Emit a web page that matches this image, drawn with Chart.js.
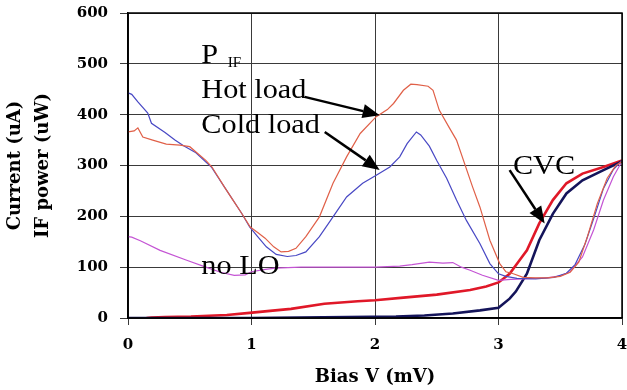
<!DOCTYPE html>
<html>
<head>
<meta charset="utf-8">
<script src="https://cdn.jsdelivr.net/npm/chart.js@4/dist/chart.umd.min.js"></script>
<style>
html,body{margin:0;padding:0;background:#fff;}
canvas{display:block;}
</style>
</head>
<body>
<canvas id="c" width="627" height="390"></canvas>
<script>
// ---- data ----
const hotBias  = [0,0.05,0.08,0.12,0.2,0.31,0.42,0.5,0.63,0.68,0.78,0.85,0.92,0.99,1.05,1.11,1.18,1.24,1.3,1.36,1.44,1.55,1.66,1.77,1.88,2.01,2.1,2.15,2.23,2.29,2.34,2.43,2.47,2.52,2.6,2.66,2.79,2.85,2.93,3.01,3.06,3.12,3.2,3.3,3.4,3.5,3.58,3.65,3.72,3.8,3.88,3.95,4.0];
const hotLoad  = [366,368,374,356,350,342,340,337,310,297,258,232,206,179,168,157,140,130,131,137,160,199,265,317,363,396,410,422,448,460,459,456,448,409,375,350,258,218,153,107,91,87,80,79,79,82,90,110,160,225,275,300,308];

const coldBias = [0,0.03,0.08,0.16,0.19,0.3,0.38,0.45,0.55,0.675,0.78,0.92,0.985,1.05,1.12,1.2,1.29,1.36,1.44,1.55,1.66,1.77,1.9,2.01,2.12,2.2,2.26,2.335,2.37,2.44,2.5,2.58,2.66,2.74,2.85,2.93,3.0,3.06,3.15,3.3,3.45,3.55,3.62,3.7,3.77,3.85,3.93,4.0];
const coldLoad = [443,440,425,403,383,365,350,339,325,297,258,206,179,160,140,125,121,123,130,160,199,238,265,281,297,317,343,366,360,338,310,275,232,192,146,107,87,82,78,77,80,88,105,145,195,255,292,310];

const noLoBias = [0,0.03,0.1,0.26,0.47,0.63,0.75,0.86,0.95,1.0,1.1,1.19,1.4,1.7,2.0,2.2,2.3,2.44,2.55,2.63,2.7,2.77,2.87,3.0,3.1,3.2,3.39,3.5,3.58,3.68,3.77,3.85,3.93,3.99];
const noLo     = [160,159,152,133,114,100,90,84,85,91,95,98,100,100,100,102,105,110,108,109,100,94,84,74,76,77,79,83,91,120,173,232,278,304];

const cvcPumpedBias = [0.15,0.19,0.3,0.51,0.8,0.985,1.15,1.32,1.59,1.86,2.0,2.23,2.5,2.77,2.9,3.0,3.09,3.16,3.23,3.33,3.44,3.55,3.68,3.85,4.0];
const cvcPumped     = [0,1,2,3,6,10,14,18,28,33,35,40,46,55,62,70,87,110,133,186,232,265,284,297,310];

const cvcDarkBias = [0,1,2.17,2.4,2.63,2.85,3.0,3.09,3.14,3.23,3.33,3.44,3.55,3.68,3.85,4.0];
const cvcDark     = [0,0,3,5,9,15,20,38,52,87,153,205,245,271,291,308];

const xTicks = [0,1,2,3,4];
const yTicks = [0,100,200,300,400,500,600];

function pts(xs, ys){ return xs.map((x,i)=>({x:x,y:ys[i]})); }

// annotation labels / arrows in data coordinates
const labels = [
  {text:'P',         x:0.594, y:501, size:28},
  {text:'IF',        x:0.807, y:494, size:14},
  {text:'Hot load',  x:0.594, y:432, size:28},
  {text:'Cold load', x:0.594, y:363, size:28},
  {text:'no LO',     x:0.594, y:87,  size:28},
  {text:'CVC',       x:3.117, y:284, size:28}
];
const arrows = [
  {x1:1.43, y1:435, x2:2.038, y2:399},
  {x1:1.593,y1:366, x2:2.038, y2:291},
  {x1:3.09, y1:291, x2:3.374, y2:186}
];

const annotPlugin = {
  id:'annot',
  afterDatasetsDraw(chart){
    const ctx = chart.ctx, xs = chart.scales.x, ys = chart.scales.y;
    ctx.save();
    ctx.fillStyle = '#000';
    ctx.textBaseline = 'alphabetic';
    ctx.textAlign = 'left';
    labels.forEach(l=>{
      const px = xs.getPixelForValue(l.x), py = ys.getPixelForValue(l.y);
      ctx.save();
      ctx.translate(px, py);
      ctx.scale(1.08, 1);
      ctx.font = l.size + 'px "Liberation Serif", "Times New Roman", serif';
      ctx.fillText(l.text, 0, 0);
      ctx.restore();
    });
    arrows.forEach(a=>{
      const x1 = xs.getPixelForValue(a.x1), y1 = ys.getPixelForValue(a.y1);
      const x2 = xs.getPixelForValue(a.x2), y2 = ys.getPixelForValue(a.y2);
      const ang = Math.atan2(y2-y1, x2-x1);
      const L = 17, W = 7;
      const bx = x2 - L*Math.cos(ang), by = y2 - L*Math.sin(ang);
      ctx.strokeStyle = '#000';
      ctx.lineWidth = 2.5;
      ctx.beginPath(); ctx.moveTo(x1,y1); ctx.lineTo(bx,by); ctx.stroke();
      ctx.beginPath();
      ctx.moveTo(x2,y2);
      ctx.lineTo(bx + W*Math.sin(ang), by - W*Math.cos(ang));
      ctx.lineTo(bx - W*Math.sin(ang), by + W*Math.cos(ang));
      ctx.closePath(); ctx.fill();
    });
    ctx.restore();
  }
};

const thin = {borderWidth:1.2, pointRadius:0, tension:0, fill:false};
const thick = {borderWidth:2.6, pointRadius:0, tension:0, fill:false};

new Chart(document.getElementById('c'), {
  type:'line',
  data:{
    datasets:[
      Object.assign({label:'Hot load', data:pts(hotBias,hotLoad), borderColor:'#e06048'}, thin),
      Object.assign({label:'Cold load', data:pts(coldBias,coldLoad), borderColor:'#4848c4'}, thin),
      Object.assign({label:'no LO', data:pts(noLoBias,noLo), borderColor:'#c454d4'}, thin),
      Object.assign({label:'CVC unpumped', data:pts(cvcDarkBias,cvcDark), borderColor:'#14145a'}, thick),
      Object.assign({label:'CVC pumped', data:pts(cvcPumpedBias,cvcPumped), borderColor:'#e01828'}, thick)
    ]
  },
  options:{
    responsive:false,
    devicePixelRatio:1,
    animation:false,
    layout:{padding:{top:13, right:5, left:0, bottom:0}},
    plugins:{legend:{display:false}, tooltip:{enabled:false}},
    scales:{
      x:{
        type:'linear', min:0, max:4,
        afterBuildTicks(s){ s.ticks = xTicks.map(v=>({value:v})); },
        afterFit(s){ s.height = 72; s.paddingLeft = 0; s.paddingRight = 0; },
        ticks:{color:'#000', padding:11, font:{family:'"DejaVu Serif", serif', weight:'bold', size:15}},
        grid:{color:'#3a3a3a', lineWidth:1, tickLength:7, tickColor:'#3a3a3a'},
        border:{display:true, color:'#000', width:1.5},
        title:{display:true, text:'Bias V (mV)', color:'#000', padding:{top:0,bottom:2},
               font:{family:'"DejaVu Serif", serif', weight:'bold', size:18, lineHeight:1.2}}
      },
      y:{
        type:'linear', min:0, max:600,
        afterBuildTicks(s){ s.ticks = yTicks.map(v=>({value:v})); },
        afterFit(s){ s.width = 128; s.paddingTop = 0; s.paddingBottom = 0; },
        ticks:{color:'#000', padding:12, font:{family:'"DejaVu Serif", serif', weight:'bold', size:15}},
        grid:{color:'#3a3a3a', lineWidth:1, tickLength:8, tickColor:'#3a3a3a'},
        border:{display:true, color:'#000', width:1.5},
        title:{display:true, text:['Current (uA)','IF power (uW)'], color:'#000', padding:{top:1,bottom:0},
               font:{family:'"DejaVu Serif", serif', weight:'bold', size:18, lineHeight:1.556}}
      }
    }
  },
  plugins:[annotPlugin, {
    id:'frame',
    afterDraw(chart){
      const {ctx, chartArea:a} = chart;
      ctx.save(); ctx.strokeStyle='#000'; ctx.lineWidth=1.5;
      ctx.strokeRect(a.left, a.top, a.right-a.left, a.bottom-a.top);
      ctx.restore();
    }
  }]
});
</script>
</body>
</html>
